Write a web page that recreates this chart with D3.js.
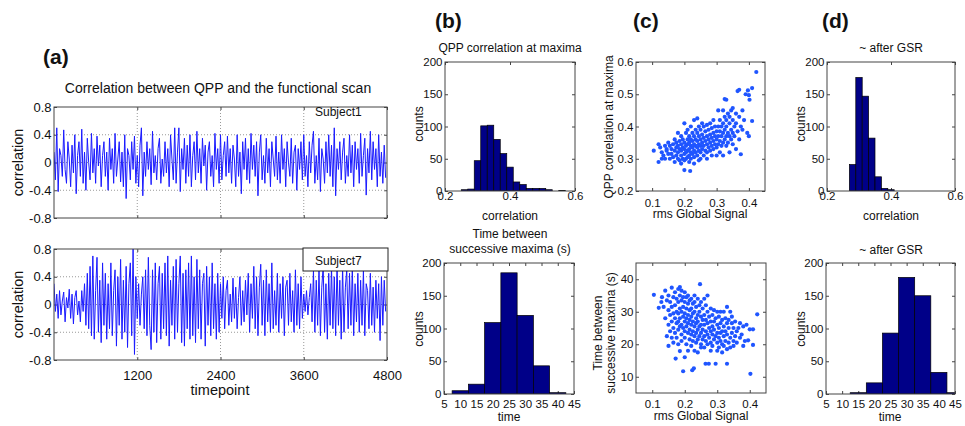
<!DOCTYPE html>
<html>
<head>
<meta charset="utf-8">
<script src="https://cdn.jsdelivr.net/npm/d3@7"></script>
<style>
  body { margin: 0; background: #fff; }
  svg { font-family: "Liberation Sans", Arial, sans-serif; }
</style>
</head>
<body>
<svg id="fig" width="965" height="426"></svg>
<script>
// ---- data ----
// (a) correlation time courses, one value every 20 timepoints
const tsStep = 20;
const subject1 = [
  0.15,-0.25,0.5,-0.42,0.2,0.1,-0.2,0.47,-0.1,-0.3,0.3,0.05,-0.35,0.25,-0.15,0.4,-0.45,0.1,0.3,-0.2,
  0.48,-0.3,0.15,-0.4,0.35,0.0,-0.25,0.42,-0.15,0.2,-0.3,0.38,-0.05,0.25,-0.35,0.1,0.3,-0.2,0.15,-0.4,
  0.35,-0.1,0.2,-0.3,0.42,-0.2,0.05,0.3,-0.28,0.15,-0.35,0.4,-0.52,0.2,0.1,-0.25,0.3,-0.1,0.38,-0.3,
  0.1,-0.35,0.25,0.5,-0.48,0.15,-0.2,0.3,-0.1,0.2,-0.32,0.45,-0.15,0.1,-0.25,0.2,0.35,-0.3,0.05,-0.2,
  0.3,-0.15,0.2,-0.35,0.4,0.05,-0.25,0.5,-0.3,0.15,0.5,-0.42,0.2,-0.1,0.35,-0.3,0.25,-0.2,0.4,-0.35,
  0.1,0.3,-0.25,0.45,-0.15,0.2,-0.3,0.35,-0.05,0.25,-0.4,0.15,0.3,-0.2,0.1,-0.35,0.42,-0.1,0.2,-0.3,
  0.4,-0.25,0.1,0.3,-0.2,0.38,-0.15,0.2,-0.3,0.25,0.05,-0.35,0.4,-0.2,0.15,-0.45,0.3,-0.1,0.35,-0.25,
  0.2,-0.3,0.42,-0.1,0.25,-0.2,0.3,-0.48,0.15,0.4,-0.25,0.1,-0.3,0.35,-0.15,0.2,-0.35,0.3,0.05,-0.2,
  0.38,-0.25,0.15,-0.3,0.4,-0.1,0.2,-0.35,0.3,0.0,-0.2,0.35,-0.3,0.15,0.25,-0.4,0.2,-0.1,0.3,-0.25,
  0.4,-0.2,0.1,-0.35,0.3,-0.15,0.25,0.45,-0.3,0.1,-0.25,0.35,-0.42,0.2,0.05,-0.3,0.3,-0.15,0.4,-0.2,
  0.25,-0.35,0.5,-0.48,0.2,-0.1,0.3,-0.25,0.15,0.35,-0.3,0.1,-0.2,0.4,-0.15,0.25,-0.35,0.3,-0.1,0.2,
  -0.3,0.42,-0.2,0.1,0.35,-0.47,0.2,-0.15,0.45,-0.25,0.3,-0.1,0.2,-0.35,0.4,-0.2,0.15,-0.3,0.25,-0.22
];
const subject7 = [
  0.3,-0.1,0.15,-0.2,0.2,-0.15,0.05,0.18,-0.25,0.1,-0.05,0.22,-0.2,0.15,-0.28,0.1,0.2,-0.15,0.05,-0.25,
  0.2,-0.1,0.3,-0.3,0.45,-0.35,0.55,-0.45,0.7,-0.5,0.2,0.68,-0.4,0.35,-0.55,0.6,-0.3,0.45,-0.5,0.3,
  -0.35,0.6,-0.45,0.2,0.5,-0.6,0.4,-0.3,0.65,-0.5,0.35,-0.4,0.55,-0.62,0.3,0.6,-0.45,0.8,-0.72,0.4,
  -0.2,0.3,-0.3,0.15,0.4,-0.35,0.5,-0.45,0.68,-0.3,-0.65,0.5,-0.4,0.6,-0.55,0.3,0.55,-0.5,0.45,-0.35,
  0.6,-0.45,0.7,-0.6,0.35,-0.3,0.55,-0.5,0.65,-0.4,0.3,0.7,-0.55,0.45,-0.6,0.5,-0.35,0.6,-0.5,0.7,
  -0.45,0.4,-0.55,0.65,-0.35,0.5,-0.5,0.3,0.45,-0.6,0.55,-0.3,0.4,-0.45,0.6,-0.35,0.3,-0.5,0.45,-0.4,
  0.3,-0.2,0.4,-0.35,0.2,0.35,-0.3,0.15,-0.25,0.38,-0.2,0.25,-0.35,0.1,0.4,-0.3,0.2,-0.25,0.35,-0.15,
  0.45,-0.4,0.3,-0.2,0.55,-0.35,0.4,-0.45,0.25,0.58,-0.3,0.35,-0.45,0.5,-0.25,0.3,-0.4,0.6,-0.35,0.2,
  -0.3,0.45,-0.4,0.3,-0.2,0.4,-0.45,0.25,0.35,-0.3,0.45,-0.25,0.2,-0.4,0.5,-0.3,0.3,-0.35,0.4,-0.2,
  0.15,-0.1,0.2,-0.15,0.1,0.3,-0.25,0.5,-0.4,0.35,-0.3,0.5,-0.45,0.25,0.55,-0.4,0.3,-0.5,0.45,-0.3,
  0.55,-0.35,0.4,-0.45,0.6,-0.3,0.35,-0.5,0.55,-0.4,0.25,0.5,-0.35,0.45,-0.3,0.55,-0.45,0.3,-0.25,0.45,
  -0.4,0.35,-0.3,0.5,-0.45,0.3,0.2,-0.35,0.45,-0.3,0.25,-0.4,0.35,-0.2,0.3,-0.52,0.4,-0.3,0.35,-0.1
];
const timeTicks = [1200, 2400, 3600, 4800];
const corrTicks = [-0.8, -0.4, 0, 0.4, 0.8];
const gridCorr = [-0.4, 0, 0.4];

// (b) and (d) histograms
const corrBins = [0.26,0.28,0.30,0.32,0.34,0.36,0.38,0.40,0.42,0.44,0.46,0.48,0.50,0.52,0.54,0.56];
const corrCounts = [2,3,47,101,102,80,58,37,14,10,4,4,4,2,0,1];
const gapBins = [10,15,20,25,30,35,40];
const gapCounts = [5,15,109,185,120,43,2];
const gsrCorrBins = [0.28,0.30,0.32,0.34,0.36,0.38,0.40];
const gsrCorrCounts = [41,176,147,82,22,4,2];
const gsrGapBins = [15,20,25,30,35,40,45];
const gsrGapCounts = [2,17,93,178,150,33,2];
const countTicks = [0, 50, 100, 150, 200];
const corrHistTicks = [0.2, 0.4, 0.6];
const gapTicks = [5,10,15,20,25,30,35,40,45];

// (c) scatter: rms global signal vs QPP correlation / time between maxima
const rmsVsCorr = [
  [0.105,0.325],[0.12,0.29],[0.12,0.345],[0.125,0.335],[0.13,0.32],[0.135,0.31],[0.14,0.34],[0.14,0.30],[0.145,0.33],[0.15,0.35],[0.15,0.315],[0.13,0.30],[0.145,0.325],
  [0.155,0.34],[0.155,0.30],[0.16,0.33],[0.16,0.315],[0.165,0.345],[0.165,0.305],[0.17,0.36],[0.17,0.325],[0.17,0.29],[0.175,0.335],[0.175,0.35],[0.175,0.31],
  [0.18,0.38],[0.18,0.34],[0.18,0.32],[0.18,0.30],[0.185,0.355],[0.185,0.33],[0.185,0.295],[0.19,0.37],[0.19,0.345],[0.19,0.325],[0.19,0.31],[0.19,0.285],
  [0.195,0.36],[0.195,0.335],[0.195,0.30],[0.2,0.41],[0.2,0.35],[0.2,0.33],[0.2,0.315],[0.2,0.265],[0.2,0.295],
  [0.205,0.38],[0.205,0.34],[0.205,0.32],[0.205,0.30],[0.21,0.39],[0.21,0.36],[0.21,0.345],[0.21,0.325],[0.21,0.305],[0.215,0.37],[0.215,0.35],[0.215,0.33],
  [0.215,0.31],[0.215,0.29],[0.218,0.262],[0.22,0.40],[0.22,0.36],[0.22,0.34],[0.22,0.32],[0.22,0.30],[0.225,0.38],[0.225,0.355],[0.225,0.335],[0.225,0.315],
  [0.23,0.42],[0.23,0.37],[0.23,0.345],[0.23,0.325],[0.23,0.305],[0.23,0.285],[0.235,0.39],[0.235,0.36],[0.235,0.34],[0.235,0.32],[0.24,0.425],[0.24,0.38],
  [0.24,0.355],[0.24,0.335],[0.24,0.31],[0.245,0.40],[0.245,0.37],[0.245,0.345],[0.245,0.325],[0.245,0.295],[0.25,0.39],[0.25,0.36],[0.25,0.34],[0.25,0.32],[0.25,0.30],
  [0.255,0.41],[0.255,0.375],[0.255,0.35],[0.255,0.33],[0.26,0.40],[0.26,0.365],[0.26,0.34],[0.26,0.31],[0.265,0.385],[0.265,0.355],[0.265,0.325],
  [0.27,0.405],[0.27,0.37],[0.27,0.345],[0.27,0.32],[0.27,0.30],[0.275,0.39],[0.275,0.36],[0.275,0.335],[0.28,0.41],[0.28,0.375],[0.28,0.35],[0.28,0.325],
  [0.285,0.395],[0.285,0.365],[0.285,0.34],[0.285,0.31],[0.29,0.42],[0.29,0.38],[0.29,0.355],[0.29,0.33],[0.295,0.40],[0.295,0.37],[0.295,0.345],
  [0.3,0.385],[0.3,0.36],[0.3,0.335],[0.3,0.31],
  [0.305,0.45],[0.305,0.40],[0.305,0.37],[0.305,0.345],[0.31,0.42],[0.31,0.385],[0.31,0.355],[0.31,0.32],[0.315,0.40],[0.315,0.37],[0.315,0.34],
  [0.32,0.45],[0.32,0.41],[0.32,0.38],[0.32,0.35],[0.32,0.31],[0.325,0.485],[0.325,0.43],[0.325,0.39],[0.325,0.36],[0.33,0.483],[0.33,0.42],[0.33,0.40],
  [0.33,0.37],[0.33,0.34],[0.335,0.44],[0.335,0.38],[0.335,0.35],[0.34,0.43],[0.34,0.41],[0.34,0.37],[0.34,0.32],[0.345,0.45],[0.345,0.39],[0.345,0.36],
  [0.35,0.457],[0.35,0.42],[0.35,0.38],[0.35,0.345],[0.355,0.40],[0.355,0.37],[0.36,0.44],[0.36,0.41],[0.36,0.33],[0.365,0.51],[0.365,0.385],
  [0.37,0.514],[0.37,0.43],[0.37,0.36],
  [0.375,0.314],[0.375,0.40],[0.38,0.45],[0.385,0.42],[0.39,0.50],[0.397,0.512],[0.40,0.497],[0.402,0.483],[0.40,0.37],[0.41,0.519],[0.41,0.417],
  [0.423,0.569],[0.395,0.38],[0.38,0.39]
];
const rmsVsGap = [
  [0.105,35.2],[0.12,31.2],[0.128,33],[0.13,34.5],[0.135,31.5],[0.14,36.5],[0.14,28],[0.145,33.5],[0.145,22.5],[0.15,19.5],[0.15,30.5],[0.15,26],[0.15,35],
  [0.155,33],[0.155,29],[0.155,24],[0.16,37.4],[0.16,31.5],[0.16,27],[0.16,22],[0.165,34.5],[0.165,29.5],[0.165,25],[0.165,20.5],[0.17,36],[0.17,32],
  [0.17,28],[0.17,23.5],[0.172,15.6],[0.175,34],[0.175,30],[0.175,26.5],[0.175,22],[0.18,37],[0.18,33],[0.18,29.5],[0.18,27],[0.18,24.5],[0.18,20],
  [0.185,37.6],[0.185,35],[0.185,31],[0.185,28],[0.185,25.5],[0.185,17.9],[0.19,36.5],[0.19,33.5],[0.19,30],[0.19,26],[0.19,23],[0.19,21],
  [0.195,34.5],[0.195,31.5],[0.195,28.5],[0.195,25],[0.195,11.7],[0.2,36],[0.2,33],[0.2,29.5],[0.2,27],[0.2,24],[0.2,22],[0.2,16],
  [0.205,34.5],[0.205,31],[0.205,28],[0.205,25.5],[0.205,20],[0.21,35],[0.21,32.5],[0.21,29],[0.21,26.5],[0.21,23.5],[0.21,18],[0.215,33.5],[0.215,30.5],
  [0.215,27.5],[0.215,24.5],[0.215,21.5],[0.22,34],[0.22,31],[0.22,28.5],[0.22,26],[0.22,23],[0.22,19.5],[0.223,12],[0.225,32.5],[0.225,29.5],[0.225,27],
  [0.225,24],[0.225,21],[0.228,12.6],[0.23,35],[0.23,33],[0.23,30],[0.23,25.5],[0.23,22.5],[0.23,18],[0.235,31.5],[0.235,28],[0.235,26.5],[0.235,23.5],
  [0.235,20.5],[0.24,34],[0.24,29],[0.24,27],[0.24,24.5],[0.24,21.5],[0.24,17.5],[0.245,32],[0.245,30],[0.245,25.5],[0.245,22.5],[0.247,38.5],
  [0.25,33],[0.25,28.5],[0.25,26],[0.25,23.5],[0.25,20],[0.25,19],
  [0.255,31],[0.255,27.5],[0.255,24.5],[0.255,21.5],[0.26,34],[0.26,29],[0.26,26],[0.26,22.5],[0.26,19],[0.264,14],[0.265,32],[0.265,27.5],[0.265,24],
  [0.265,21],[0.27,35],[0.27,30],[0.27,26.5],[0.27,23],[0.27,20],[0.274,14],[0.275,28.5],[0.275,25],[0.275,22],[0.28,31],[0.28,27],[0.28,24],[0.28,20.5],
  [0.28,18],[0.285,29],[0.285,25.5],[0.285,23],[0.285,19.5],[0.29,30.5],[0.29,27],[0.29,24.5],[0.29,21.5],[0.295,28],[0.295,22.5],[0.295,14],
  [0.3,30],[0.3,26],[0.3,23.5],[0.3,20.5],[0.3,18],
  [0.305,28.5],[0.305,25],[0.305,22],[0.305,19],[0.31,30],[0.31,26.5],[0.31,23.5],[0.31,21],[0.315,27.5],[0.315,24],[0.315,20],[0.315,17.5],
  [0.32,30],[0.32,25.5],[0.32,22.5],[0.32,19.5],[0.325,28],[0.325,24],[0.325,21],[0.33,31.5],[0.33,26.5],[0.33,23],[0.33,18.5],[0.33,14],
  [0.335,27.5],[0.335,25],[0.335,20.5],[0.34,30],[0.34,22],[0.34,19],[0.345,26.5],[0.345,23.5],[0.345,28.5],[0.35,25],[0.35,21],[0.35,19.5],
  [0.355,27],[0.355,22.5],[0.36,24],[0.36,20.5],[0.365,25],[0.37,26.5],[0.37,22],[0.375,23],[0.38,25.5],[0.385,21],[0.39,26],[0.395,21.2],
  [0.40,24.6],[0.41,24.6],[0.41,19.8],[0.423,29.2],[0.402,10.9],[0.38,19.5]
];
const rmsTicks = [0.1, 0.2, 0.3, 0.4];
const qppTicks = [0.2, 0.3, 0.4, 0.5, 0.6];
const gapYTicks = [10, 20, 30, 40];

// ---- drawing ----
const svg = d3.select("#fig");
const fmt = d => String(d);
let clipId = 0;

// MATLAB-like axes: box, inward ticks on all four sides
function frame(x, y, o) {
  const [x0, x1] = x.range(), [y0, y1] = y.range();
  const g = svg.append("g");
  const tidy = sel => {
    sel.attr("font-family", null).attr("font-size", o.tf);
    sel.select(".domain").remove();
    sel.selectAll(".tick line").attr("stroke", "#444");
    sel.selectAll(".tick text").attr("fill", "#111");
  };
  g.append("g").attr("transform", `translate(0,${y0})`)
    .call(d3.axisBottom(x).tickValues(o.xt).tickSize(-3).tickPadding(o.xp)
      .tickFormat(o.xLabels === false ? "" : fmt)).call(tidy);
  g.append("g").attr("transform", `translate(0,${y1})`)
    .call(d3.axisTop(x).tickValues(o.xt).tickSize(-3).tickFormat("")).call(tidy);
  g.append("g").attr("transform", `translate(${x0},0)`)
    .call(d3.axisLeft(y).tickValues(o.yt).tickSize(-3).tickPadding(o.yp).tickFormat(fmt)).call(tidy);
  g.append("g").attr("transform", `translate(${x1},0)`)
    .call(d3.axisRight(y).tickValues(o.yt).tickSize(-3).tickFormat("")).call(tidy);
  const id = "clip" + (clipId++);
  svg.append("clipPath").attr("id", id).append("rect")
    .attr("x", x0).attr("y", y1).attr("width", x1 - x0).attr("height", y0 - y1);
  const plot = svg.append("g").attr("clip-path", `url(#${id})`);
  // box drawn on top later
  return { plot, box: () => svg.append("rect").attr("x", x0).attr("y", y1)
      .attr("width", x1 - x0).attr("height", y0 - y1)
      .attr("fill", "none").attr("stroke", "#444").attr("stroke-width", 1) };
}

function text(x, y, s, size, opt = {}) {
  const t = svg.append("text").attr("x", x).attr("y", y).text(s)
    .attr("font-size", size).attr("fill", "#111")
    .attr("text-anchor", opt.anchor || "middle");
  if (opt.bold) t.attr("font-weight", "bold");
  if (opt.rotate) t.attr("transform", `rotate(-90,${x},${y})`);
  return t;
}

// panel (a): time courses
function timeCourse(values, top, bottom, showX) {
  const x = d3.scaleLinear().domain([0, 4800]).range([54, 387]);
  const y = d3.scaleLinear().domain([-0.8, 0.8]).range([bottom, top]);
  const f = frame(x, y, { xt: timeTicks, yt: corrTicks, tf: 13, xp: 10.5, yp: 2.5, xLabels: showX });
  // dotted grid
  f.plot.selectAll(".gx").data(timeTicks.slice(0, 3)).join("line")
    .attr("x1", d => x(d)).attr("x2", d => x(d)).attr("y1", top).attr("y2", bottom)
    .attr("stroke", "#999").attr("stroke-dasharray", "1,2");
  f.plot.selectAll(".gy").data(gridCorr).join("line")
    .attr("x1", 54).attr("x2", 387).attr("y1", d => y(d)).attr("y2", d => y(d))
    .attr("stroke", "#999").attr("stroke-dasharray", "1,2");
  f.plot.append("path").datum(values)
    .attr("d", d3.line().x((d, i) => x(i * tsStep)).y(d => y(d)))
    .attr("fill", "none").attr("stroke", "#1a1aff").attr("stroke-width", 1);
  f.box();
  text(23, (top + bottom) / 2, "correlation", 14.5, { rotate: true });
  return { x, y };
}

text(43, 64, "(a)", 21, { bold: true, anchor: "start" });
text(218, 93, "Correlation between QPP and the functional scan", 14);
timeCourse(subject1, 107, 218, false);
text(315, 116, "Subject1", 12, { anchor: "start" });
timeCourse(subject7, 249, 360, true);
svg.append("rect").attr("x", 303).attr("y", 248).attr("width", 85).attr("height", 23)
  .attr("fill", "#fff").attr("stroke", "#222").attr("stroke-width", 1);
text(315, 265, "Subject7", 12, { anchor: "start" });
text(220, 395, "timepoint", 14.5);

// histograms
function hist(bins, counts, width, xDom, xt, box, xp) {
  const x = d3.scaleLinear().domain(xDom).range([box[0], box[1]]);
  const y = d3.scaleLinear().domain([0, 200]).range([box[3], box[2]]);
  const f = frame(x, y, { xt, yt: countTicks, tf: 11.5, xp, yp: 2.5 });
  f.plot.selectAll("rect").data(bins).join("rect")
    .attr("x", d => x(d - width / 2))
    .attr("width", d => x(d + width / 2) - x(d - width / 2))
    .attr("y", (d, i) => y(counts[i]))
    .attr("height", (d, i) => y(0) - y(counts[i]))
    .attr("fill", "#000088").attr("stroke", "#000").attr("stroke-width", 0.7);
  f.box();
}

text(435, 28, "(b)", 21, { bold: true, anchor: "start" });
text(510, 52, "QPP correlation at maxima", 12);
hist(corrBins, corrCounts, 0.02, [0.2, 0.6], corrHistTicks, [445, 575, 62, 191], 0.5);
text(423, 124, "counts", 12, { rotate: true });
text(510, 220, "correlation", 12);
text(510, 238, "Time between", 12);
text(510, 253, "successive maxima (s)", 12);
hist(gapBins, gapCounts, 5, [5, 45], gapTicks, [444, 574, 263, 394], 6);
text(423, 329, "counts", 12, { rotate: true });
text(509, 421, "time", 12);

text(822, 28, "(d)", 21, { bold: true, anchor: "start" });
text(891, 52, "~ after GSR", 12);
hist(gsrCorrBins, gsrCorrCounts, 0.02, [0.2, 0.6], corrHistTicks, [827, 955, 62, 191], 0.5);
text(805, 124, "counts", 12, { rotate: true });
text(891, 220, "correlation", 12);
text(891, 254, "~ after GSR", 12);
hist(gsrGapBins, gsrGapCounts, 5, [5, 45], gapTicks, [826, 955, 263, 394], 6);
text(805, 329, "counts", 12, { rotate: true });
text(890, 421, "time", 12);

// scatter panels (c)
function scatter(points, yDom, yt, box, xp) {
  const x = d3.scaleLinear().domain([0.05, 0.45]).range([box[0], box[1]]);
  const y = d3.scaleLinear().domain(yDom).range([box[3], box[2]]);
  const f = frame(x, y, { xt: rmsTicks, yt, tf: 11.5, xp, yp: 2.5 });
  f.plot.selectAll("circle").data(points).join("circle")
    .attr("cx", d => x(d[0])).attr("cy", d => y(d[1])).attr("r", 2.1)
    .attr("fill", "#1f55ff");
  f.box();
}

text(633, 28, "(c)", 21, { bold: true, anchor: "start" });
scatter(rmsVsCorr, [0.2, 0.6], qppTicks, [636, 765, 62, 191], 7.5);
text(613, 127, "QPP correlation at maxima", 12, { rotate: true });
text(700, 218, "rms Global Signal", 12);
scatter(rmsVsGap, [5, 45], gapYTicks, [636, 766, 263, 393], 7);
text(602, 333, "Time between", 12, { rotate: true });
text(615, 333, "successive maxima (s)", 12, { rotate: true });
text(701, 420, "rms Global Signal", 12);
</script>
</body>
</html>
